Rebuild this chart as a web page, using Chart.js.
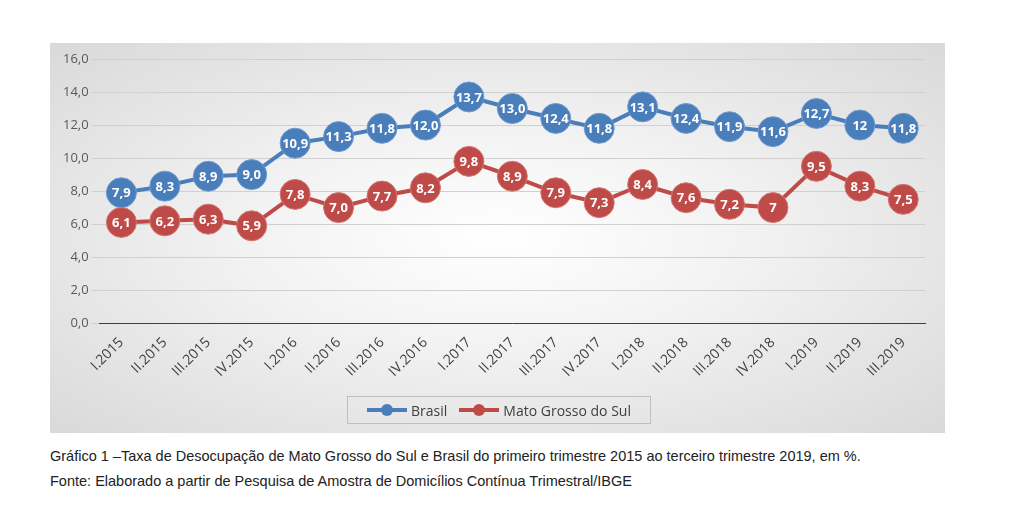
<!DOCTYPE html>
<html><head><meta charset="utf-8">
<script src="https://cdn.jsdelivr.net/npm/chart.js@4"></script>
<style>
body{margin:0;background:#fff;width:1024px;height:524px;position:relative;font-family:"Liberation Sans",Arial,sans-serif;overflow:hidden}
#box{position:absolute;left:50px;top:43px;width:895px;height:390px;background:radial-gradient(ellipse at center,#ffffff 0%,#f2f2f2 40%,#d9d9d9 100%)}
#wrap{position:absolute;left:0;top:0;width:895px;height:390px}
#leg{position:absolute;left:297px;top:353px;width:302px;height:26px;border:1px solid #bfbfbf;display:flex;align-items:center;justify-content:center;font-size:14px;color:#404040;font-family:"Open Sans",sans-serif}
.it{display:flex;align-items:center;margin:0 6px}
.sw{position:relative;width:40px;height:12px;margin-right:4px}
.sw i{position:absolute;left:0;right:0;top:4px;height:4px}
.sw b{position:absolute;left:14px;top:0;width:12px;height:12px;border-radius:50%}
.cap{position:absolute;left:50px;font-size:14.5px;color:#222}
</style></head><body>
<div id="box"><div id="wrap"><canvas id="c"></canvas></div>
<div id="leg"><div class="it"><div class="sw"><i style="background:#4a7ebb"></i><b style="background:#4a7ebb"></b></div>Brasil</div>
<div class="it"><div class="sw"><i style="background:#be4b48"></i><b style="background:#be4b48"></b></div>Mato Grosso do Sul</div></div>
</div>
<div class="cap" style="top:448px">Gráfico 1 –Taxa de Desocupação de Mato Grosso do Sul e Brasil do primeiro trimestre 2015 ao terceiro trimestre 2019, em %.</div>
<div class="cap" style="top:473px">Fonte: Elaborado a partir de Pesquisa de Amostra de Domicílios Contínua Trimestral/IBGE</div>
<script>
const categories=["I.2015","II.2015","III.2015","IV.2015","I.2016","II.2016","III.2016","IV.2016","I.2017","II.2017","III.2017","IV.2017","I.2018","II.2018","III.2018","IV.2018","I.2019","II.2019","III.2019"];
const brasil=[7.9,8.3,8.9,9.0,10.9,11.3,11.8,12.0,13.7,13.0,12.4,11.8,13.1,12.4,11.9,11.6,12.7,12,11.8];
const brasilLabels=["7,9","8,3","8,9","9,0","10,9","11,3","11,8","12,0","13,7","13,0","12,4","11,8","13,1","12,4","11,9","11,6","12,7","12","11,8"];
const ms=[6.1,6.2,6.3,5.9,7.8,7.0,7.7,8.2,9.8,8.9,7.9,7.3,8.4,7.6,7.2,7,9.5,8.3,7.5];
const msLabels=["6,1","6,2","6,3","5,9","7,8","7,0","7,7","8,2","9,8","8,9","7,9","7,3","8,4","7,6","7,2","7","9,5","8,3","7,5"];
const yTicks=[0,2,4,6,8,10,12,14,16];
const labelsPlugin={id:'lbl',afterDatasetsDraw(ch){const ctx=ch.ctx;ctx.save();ctx.fillStyle='#fff';ctx.font='bold 13px "Open Sans",sans-serif';ctx.textAlign='center';ctx.textBaseline='middle';
[brasilLabels,msLabels].forEach((L,di)=>{ch.getDatasetMeta(di).data.forEach((p,i)=>ctx.fillText(L[i],p.x,p.y+1));});ctx.restore();}};
new Chart(document.getElementById('c'),{type:'line',data:{labels:categories,datasets:[
{label:'Brasil',data:brasil,borderColor:'#4a7ebb',backgroundColor:'#4a7ebb',borderWidth:4,pointRadius:15,pointHoverRadius:15,pointBorderColor:'#6f9ad0',pointBorderWidth:1},
{label:'Mato Grosso do Sul',data:ms,borderColor:'#be4b48',backgroundColor:'#be4b48',borderWidth:4,pointRadius:15,pointHoverRadius:15,pointBorderColor:'#d47572',pointBorderWidth:1}]},
options:{responsive:true,maintainAspectRatio:false,animation:false,layout:{padding:{left:10,right:20,top:11,bottom:50}},
plugins:{legend:{display:false},tooltip:{enabled:false}},
scales:{x:{offset:true,grid:{display:false},border:{color:'#404040',width:1},ticks:{minRotation:45,maxRotation:45,color:'#404040',font:{size:14,family:'"Open Sans",sans-serif'}}},
y:{min:0,max:16,afterBuildTicks:a=>{a.ticks=yTicks.map(v=>({value:v}))},grid:{color:'#d0d0d0'},border:{display:false},ticks:{color:'#595959',font:{size:13,family:'"Open Sans",sans-serif'},callback:v=>v.toFixed(1).replace('.',',')}}}},
plugins:[labelsPlugin]});
</script></body></html>
